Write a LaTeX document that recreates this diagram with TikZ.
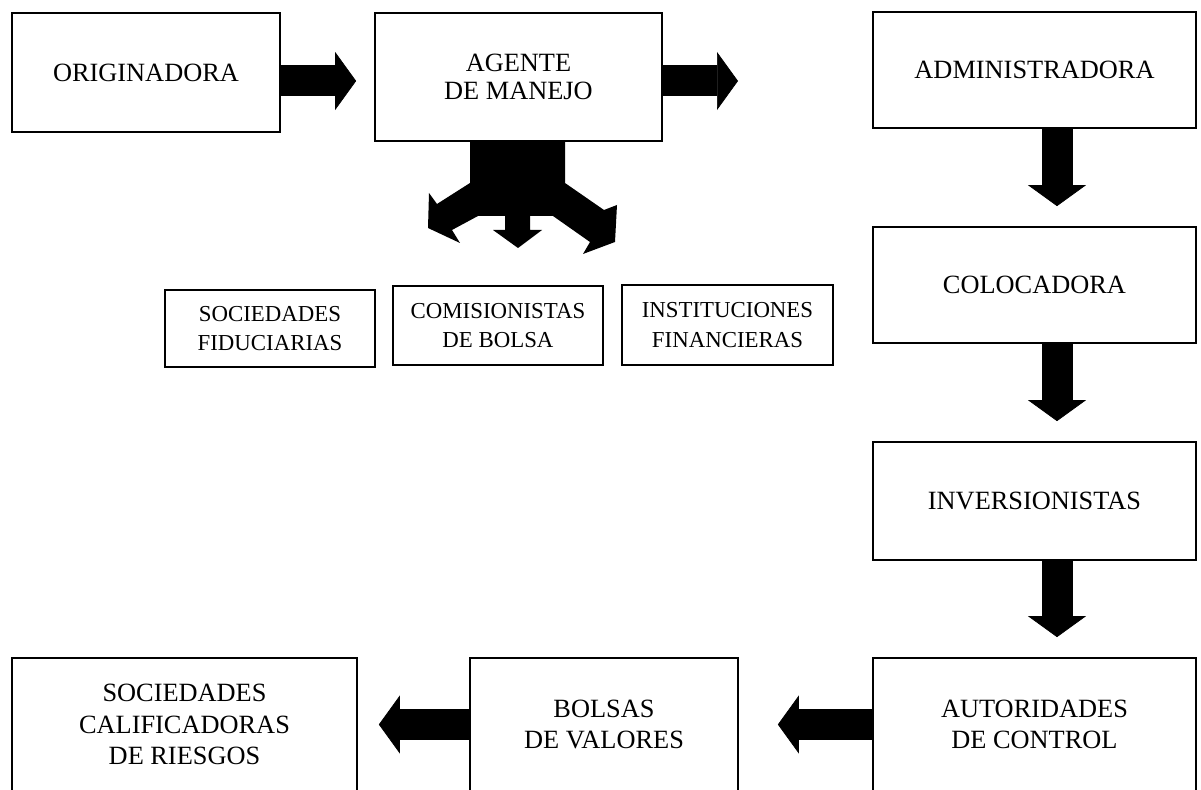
\documentclass[tikz,border=0pt]{standalone}
\usepackage{fontspec}
\setmainfont{Liberation Serif}
\usetikzlibrary{arrows.meta}

\begin{document}
\begin{tikzpicture}[
    x=0.02cm, y=-0.02cm,
    caja/.style={draw, line width=1pt, inner sep=0pt, align=center,
                 font=\fontsize{15}{16}\selectfont},
    cajita/.style={caja, font=\fontsize{13}{17}\selectfont},
    baja/.style={caja, minimum height=2.66cm, font=\fontsize{15}{18}\selectfont},
    flecha/.style={line width=0.62cm,
                   -{Triangle[length=0.42cm, width=1.16cm, line width=0.4pt]}}
]
\useasboundingbox (0,0) rectangle (1201,790);
\node[caja, minimum width=5.36cm, minimum height=2.38cm] (orig) at (146,72.5) {ORIGINADORA};
\node[caja, minimum width=5.74cm, minimum height=2.56cm] (agente) at (518.5,77) {AGENTE\\DE MANEJO};
\node[caja, minimum width=6.46cm, minimum height=2.32cm] (admin) at (1034.5,70) {ADMINISTRADORA};
\node[caja, minimum width=6.46cm, minimum height=2.32cm] (coloc) at (1034.5,285) {COLOCADORA};
\node[caja, minimum width=6.46cm, minimum height=2.36cm] (inver) at (1034.5,501) {INVERSIONISTAS};
\node[baja, minimum width=6.46cm] (autor) at (1034.5,724.5) {AUTORIDADES\\DE CONTROL};
\node[baja, minimum width=5.36cm] (bolsas) at (604,724.5) {BOLSAS\\DE VALORES};
\node[baja, minimum width=6.9cm] (socal) at (184.5,724.5) {SOCIEDADES\\CALIFICADORAS\\DE RIESGOS};
\node[cajita, minimum width=4.2cm, minimum height=1.54cm] (socfid) at (270,328.5) {SOCIEDADES\\FIDUCIARIAS};
\node[cajita, minimum width=4.2cm, minimum height=1.58cm] (comis) at (498,325.5) {COMISIONISTAS\\DE BOLSA};
\node[cajita, minimum width=4.22cm, minimum height=1.6cm] (instit) at (727.5,325) {INSTITUCIONES\\FINANCIERAS};
\coordinate (salida) at (738,81);
\draw[flecha, shorten >=0.36cm] (orig.east |- salida) -- (agente.west |- salida);
\draw[flecha] (agente.east |- salida) -- (salida);
\foreach \a/\b in {admin/coloc, coloc/inver, inver/autor}
  \draw[flecha, shorten >=0.4cm] ([xshift=0.45cm]\a.south) -- ([xshift=0.45cm]\b.north);
\draw[flecha, shorten >=0.78cm] (autor.west) -- (bolsas.east);
\draw[flecha, shorten >=0.42cm] (bolsas.west) -- (socal.east);
\fill (470,141) -- (565,141) -- (565,183) -- (604,210) -- (617,205) -- (615,242)
  -- (583,254) -- (590,242) -- (553,216) -- (530,216) -- (530,230) -- (542,230)
  -- (518,248) -- (493,230) -- (505,230) -- (505,216) -- (478,216) -- (452,230)
  -- (460,243) -- (428,228) -- (429,193) -- (437,204) -- (470,183) -- cycle;
\end{tikzpicture}
\end{document}
